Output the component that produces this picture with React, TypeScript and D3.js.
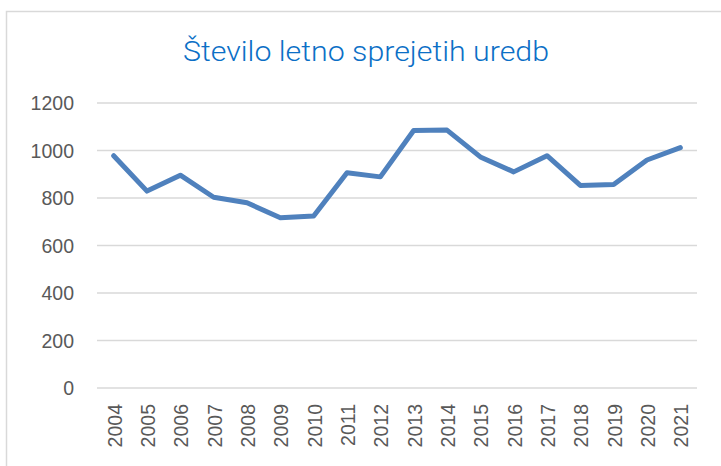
import React from 'react';
import * as d3 from 'd3';

const years = ['2004', '2005', '2006', '2007', '2008', '2009', '2010', '2011', '2012',
  '2013', '2014', '2015', '2016', '2017', '2018', '2019', '2020', '2021'];
const counts = [978, 829, 896, 803, 780, 717, 724, 906, 889, 1084, 1086, 973, 910, 978, 853, 857, 960, 1012];
const yTicks = [0, 200, 400, 600, 800, 1000, 1200];
const title = 'Število letno sprejetih uredb';

const W = 721, H = 466;
const margin = {top: 103, right: 24, bottom: 78, left: 97};

export default function App() {
  const x = d3.scaleBand().domain(years).range([margin.left, W - margin.right]);
  const y = d3.scaleLinear().domain([0, 1200]).range([H - margin.bottom, margin.top]);

  const line = d3.line<number>()
    .x((d, i) => x(years[i])! + x.bandwidth() / 2)
    .y(d => y(d));

  return (
    <svg width={W} height={H} style={{position: 'absolute', left: 0, top: 0, background: '#fff'}}>
      <rect x={6.5} y={11.5} width={W + 10} height={H + 10} fill="#fff" stroke="#d9d9d9" strokeWidth={1.5}/>
      <text x={366} y={61} textAnchor="middle" fill="#0b6fc6"
        fontFamily="Roboto, 'Open Sans', sans-serif" fontSize={28} fontWeight={300}
        textLength={366} lengthAdjust="spacingAndGlyphs">{title}</text>
      {yTicks.map(t => (
        <g key={t}>
          <line x1={margin.left} x2={W - margin.right} y1={y(t)} y2={y(t)} stroke="#d9d9d9" strokeWidth={1.5}/>
          <text x={74} y={y(t)} dy="0.36em" textAnchor="end" fill="#595959"
            fontFamily="'Liberation Sans', Arial, sans-serif" fontSize={19.5}>{t}</text>
        </g>
      ))}
      {years.map(yr => {
        const cx = x(yr)! + x.bandwidth() / 2;
        return (
          <text key={yr} transform={`translate(${cx + 1},404) rotate(-90)`} dy="0.36em" textAnchor="end"
            fill="#595959" fontFamily="'Liberation Sans', Arial, sans-serif" fontSize={19.5}>{yr}</text>
        );
      })}
      <path d={line(counts)!} fill="none" stroke="#4f81bd" strokeWidth={5} strokeLinejoin="round" strokeLinecap="round"/>
    </svg>
  );
}
